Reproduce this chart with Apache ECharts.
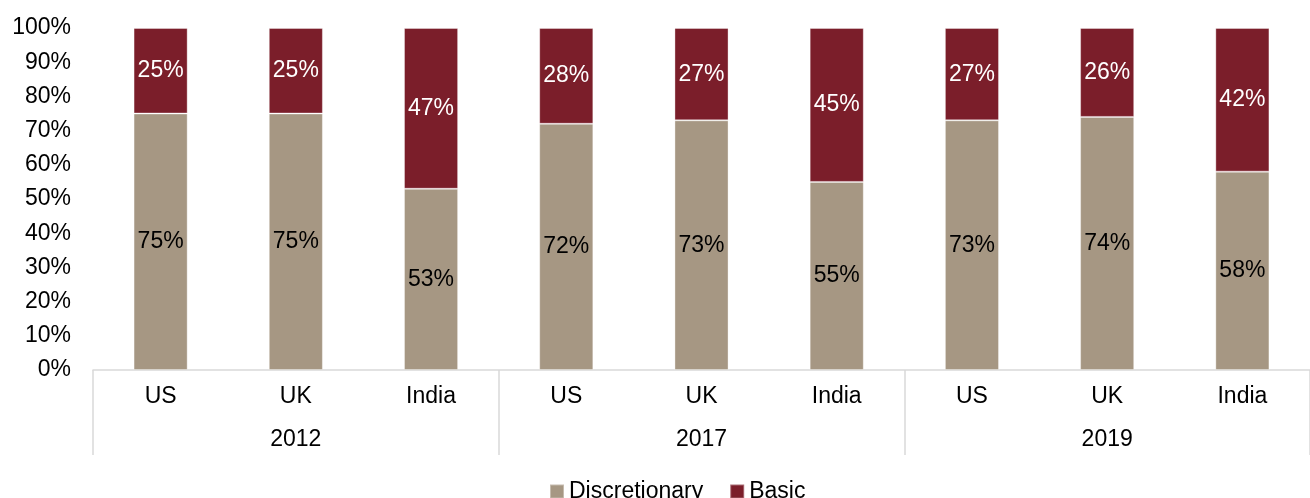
<!DOCTYPE html>
<html>
<head>
<meta charset="utf-8">
<script src="https://cdn.jsdelivr.net/npm/echarts@6/dist/echarts.min.js"></script>
<style>
  html, body { margin: 0; padding: 0; background: #fff; }
  #chart { width: 1310px; height: 498px; }
</style>
</head>
<body>
<div id="chart"></div>
<script>
// Share of spending, stacked to 100% per country and year
const countries = ['US', 'UK', 'India', 'US', 'UK', 'India', 'US', 'UK', 'India'];
const years = ['2012', '2017', '2019'];
const discretionary = [75, 75, 53, 72, 73, 55, 73, 74, 58];
const basic = [25, 25, 47, 28, 27, 45, 27, 26, 42];
const yTicks = [0, 10, 20, 30, 40, 50, 60, 70, 80, 90, 100];

const FONT = '"Liberation Sans", Arial, sans-serif';
const GREY = '#d9d9d9';
const FS = 23;

const chart = echarts.init(document.getElementById('chart'), null, { renderer: 'canvas' });

chart.setOption({
  animation: false,
  textStyle: { fontFamily: FONT },
  grid: { left: 93, right: -2, top: 28, bottom: 128, containLabel: false },
  legend: {
    data: ['Discretionary', 'Basic'],
    left: 544,
    top: 475,
    icon: 'rect',
    itemWidth: 14,
    itemHeight: 14,
    itemGap: 26,
    textStyle: { fontFamily: FONT, fontSize: FS, color: '#000' }
  },
  xAxis: [
    {
      type: 'category',
      data: countries,
      position: 'bottom',
      axisLine: { show: true, lineStyle: { color: GREY, width: 1.5 } },
      axisTick: { show: false },
      axisLabel: { margin: 15, fontSize: FS, color: '#000', fontFamily: FONT, interval: 0 }
    },
    {
      type: 'category',
      data: years,
      position: 'bottom',
      axisLine: { show: false },
      axisTick: { show: true, length: 85, interval: 0, lineStyle: { color: GREY, width: 1.5 } },
      axisLabel: { margin: 58, fontSize: FS, color: '#000', fontFamily: FONT, interval: 0 }
    }
  ],
  yAxis: {
    type: 'value',
    min: yTicks[0],
    max: yTicks[yTicks.length - 1],
    interval: 10,
    axisLine: { show: false },
    axisTick: { show: false },
    splitLine: { show: false },
    axisLabel: { margin: 22, fontSize: FS, color: '#000', fontFamily: FONT, formatter: '{value}%' }
  },
  series: [
    {
      name: 'Discretionary',
      type: 'bar',
      stack: 'share',
      xAxisIndex: 0,
      barWidth: '40%',
      data: discretionary,
      itemStyle: { color: '#a69783', borderColor: 'rgba(255,255,255,0.35)', borderWidth: 1 },
      label: {
        show: true, position: 'inside', formatter: '{c}%',
        fontSize: FS, color: '#000', fontFamily: FONT
      }
    },
    {
      name: 'Basic',
      type: 'bar',
      stack: 'share',
      xAxisIndex: 0,
      barWidth: '40%',
      data: basic,
      itemStyle: { color: '#7b1e2a', borderColor: 'rgba(255,255,255,0.35)', borderWidth: 1 },
      label: {
        show: true, position: 'inside', formatter: '{c}%',
        fontSize: FS, color: '#fff', fontFamily: FONT
      }
    }
  ]
});
</script>
</body>
</html>
